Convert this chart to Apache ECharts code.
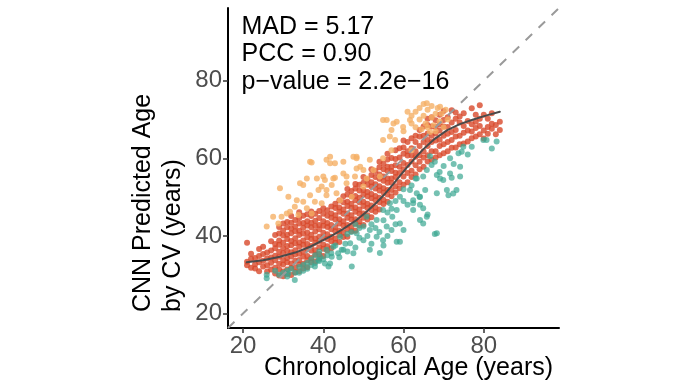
<!DOCTYPE html>
<html>
<head>
<meta charset="utf-8">
<script src="https://cdn.jsdelivr.net/npm/echarts@6/dist/echarts.min.js"></script>
<style>html,body{margin:0;padding:0;background:#fff;}#c{width:689px;height:388px;}</style>
</head>
<body>
<div id="c"></div>
<script>
// ---- data (chronological age, predicted age) ----
const tickValues = [20, 40, 60, 80];
const axisMin = 16.25, axisMax = 98.75;

const redColumns = [
  [21, [32.4, 33.3, 38.2]], [22, [31.8, 34.1, 35.4]], [23, [31.6, 32.7, 34.3]], [24, [30.9, 33.2, 34.8, 36.6]],
  [25, [32.1, 33.6, 35.3, 37.2]], [26, [30.8, 32.4, 34.2, 35.7]], [27, [31.3, 33.1, 34.4, 36.2, 38.6]],
  [28, [30.3, 31.8, 33.7, 34.9, 36.8, 37.9, 40.2]],
  [29, [29.8, 31.4, 32.8, 34.6, 35.9, 37.7, 38.8, 40.6, 42.3]],
  [30, [29.6, 30.8, 32.6, 33.8, 35.6, 36.9, 38.3, 40.1, 41.4, 43.2]],
  [31, [30.2, 31.3, 33.2, 34.3, 36.1, 37.4, 39.2, 40.3, 42.2, 43.6]],
  [32, [29.9, 31.7, 32.9, 34.7, 35.8, 37.6, 38.7, 40.7, 41.9, 43.4, 45.1]],
  [33, [30.6, 31.9, 33.6, 35.2, 36.3, 38.1, 39.4, 41.2, 42.4, 44.1]],
  [34, [30.9, 32.6, 33.8, 35.4, 37.2, 38.3, 40.2, 41.3, 43.2, 44.6, 46.1]],
  [35, [31.6, 32.8, 34.7, 35.9, 37.7, 38.8, 40.6, 42.1, 43.3, 45.2]],
  [36, [31.9, 33.7, 34.8, 36.7, 37.9, 39.6, 40.9, 42.7, 43.8, 45.6]],
  [37, [33.2, 34.3, 36.2, 37.4, 39.2, 40.3, 42.2, 43.4, 45.1, 46.3]],
  [38, [33.4, 35.2, 36.3, 38.2, 39.3, 41.1, 42.6, 43.9, 45.7]],
  [39, [34.2, 35.3, 37.1, 38.7, 39.8, 41.7, 42.8, 44.6, 46.4]],
  [40, [34.8, 36.7, 37.8, 39.6, 40.8, 42.6, 43.8, 45.7, 47.1]],
  [41, [36.2, 37.3, 39.2, 40.4, 42.3, 43.3, 45.2, 46.6]],
  [42, [36.8, 38.6, 39.8, 41.7, 42.8, 44.7, 45.8, 47.6]],
  [43, [38.2, 39.3, 41.2, 42.3, 44.2, 45.3, 47.2, 48.3]],
  [44, [38.4, 40.2, 41.3, 43.2, 44.3, 46.2, 47.3, 49.1]],
  [45, [39.7, 40.8, 42.7, 43.8, 45.7, 46.8, 48.7, 50.2]],
  [46, [39.8, 41.7, 42.8, 44.7, 45.8, 47.7, 48.8, 50.7, 52.1]],
  [47, [41.2, 42.3, 44.2, 45.3, 47.2, 48.3, 50.2, 51.6]],
  [48, [41.3, 43.2, 44.3, 46.2, 47.3, 49.2, 50.3, 52.2, 53.4]],
  [49, [42.7, 43.8, 45.7, 46.8, 48.7, 49.8, 51.7, 53.2]],
  [50, [42.8, 44.7, 45.8, 47.7, 48.8, 50.7, 51.8, 53.7, 55.2]],
  [51, [44.2, 45.3, 47.2, 48.3, 50.2, 51.3, 53.2, 54.6]],
  [52, [44.8, 46.7, 47.8, 49.7, 50.8, 52.7, 53.8, 55.7, 57.2]],
  [53, [46.2, 47.3, 49.2, 50.3, 52.2, 53.3, 55.2, 56.7]],
  [54, [46.8, 48.7, 49.8, 51.7, 52.8, 54.7, 55.8, 57.7, 59.1]],
  [55, [48.2, 49.3, 51.2, 52.3, 54.2, 55.3, 57.2, 58.6]],
  [56, [48.8, 50.7, 51.8, 53.7, 54.8, 56.7, 57.8, 59.7, 61.2]],
  [57, [50.2, 51.8, 53.7, 54.8, 56.7, 57.8, 60.1]],
  [58, [51.2, 52.8, 55.2, 56.3, 58.2, 59.8, 62.1]],
  [59, [52.3, 53.8, 56.2, 57.8, 60.2, 62.6]],
  [60, [53.2, 55.3, 57.2, 58.8, 61.2, 62.8, 64.6]],
  [61, [53.8, 56.2, 58.3, 60.7, 61.8, 64.2]],
  [62, [55.2, 56.8, 59.2, 60.8, 62.6, 65.2]],
  [63, [55.8, 58.2, 60.4, 61.8, 64.2, 65.8]],
  [64, [57.2, 59.1, 60.8, 63.2, 65.6, 67.3]],
  [65, [57.8, 60.2, 61.8, 64.2, 65.8, 68.2]],
  [66, [59.2, 60.8, 63.2, 64.7, 66.4, 68.6, 70.2]],
  [67, [59.6, 61.8, 64.2, 65.8, 68.2, 70.6]],
  [68, [60.2, 61.8, 64.6, 66.4, 68.1, 69.8]],
  [69, [60.8, 63.2, 64.8, 67.2, 68.8, 71.2]],
  [70, [61.3, 63.6, 65.8, 68.2, 69.9, 72.2]],
  [71, [61.8, 64.2, 66.3, 68.1, 70.6]],
  [72, [62.7, 64.7, 66.8, 69.2, 72.4]],
  [73, [62.8, 65.6, 67.3, 70.2, 71.8]],
  [74, [63.6, 65.8, 69.2, 70.8]],
  [75, [63.8, 66.6, 68.3, 71.6]],
  [76, [64.3, 67.2, 69.6]],
  [77, [65.2, 66.9, 68.8, 72.9]],
  [78, [65.6, 67.8, 69.4, 71.2]],
  [79, [66.2, 68.3, 70.2, 73.7]],
  [80, [65.1, 67.2, 71.2]],
  [81, [66.3, 68.1, 70.2]],
  [82, [67.6, 68.9, 71.6]],
  [83, [66.2, 68.6]],
  [84, [67.3, 69.4]]
];

const orangePoints = [
  [25.9,42.4],[27.5,44.9],[28.8,43.2],[29.6,44.9],[30.9,45.8],[31.3,50.1],[31.7,46.2],[32.9,47.5],[33.4,49.2],
  [33.8,45.4],[34.2,53.6],[35,48.8],[35,53.1],[35.9,47.1],[35.9,54.8],[36.7,50.5],[37.1,45.8],[37.1,58.9],
  [37.9,48.8],[38.4,54.8],[38.8,51.8],[39.6,48.4],[39.6,52.7],[40,55.3],[40.4,54.4],[40.8,50.5],[40.8,51.8],
  [40.8,59.6],[41.7,58.7],[42.1,53.1],[42.5,54.8],[42.9,55],[42.9,58.7],[43.3,51],[44.2,49.2],[45,56.1],
  [45,59.1],[45.8,53.6],[47.1,50.1],[47.5,60.4],[47.9,55.3],[48.3,57.4],[48.3,60.4],[49.2,57.8],[50,52.7],
  [50.8,54.8],[51.6,59.6],[52.5,57],[54.9,60],[54.9,64.7],[54.9,69.9],[55.8,69.9],[57,62.1],[57,67.3],
  [57.5,69],[57.9,64.7],[58.3,69.4],[61.6,69.9],[62,69],[62,71],[63,72],[63,68],[64,70],[64,73],[64.5,67.5],
  [65,71],[65,74],[65.5,69],[66,72.5],[66,68],[66.6,66.8],[67,70.5],[67,73.5],[67.5,68.5],[68,71.5],[68,67],
  [68.5,73],[69,69.5],[69.1,73.3],[69.5,71.5],[70,68],[70.5,72.5],[71,70],[60,67],[61,72],
  [29.2,52.3],[36.7,59.1],[41.7,60.4],[48.3,60],[56.6,65.6],[59.9,68.1],[65.8,74.2],[54.1,55.3],[50,57],
  [45.8,55.3],[62,62.1]
];

const tealPoints = [
  [25.9,29.1],[25.9,30],[28,31],[29,30],[30,30.5],[31,29.5],[31,31],[32,31.5],[32.9,28.6],[33,30.5],
  [34,30.5],[34,32],[35,31],[35,32.5],[36,31.5],[36,33],[37,32.5],[37,34],[38,33],[38,35],[39,33.5],
  [39.2,34.6],[39,36],[40,34],[40.8,36.4],[41,35],[41.7,32.9],[42,35.5],[42.5,37.2],
  [37.9,32.1],[40.4,32.9],[42.1,34.6],[43.7,35.5],[44.6,36.4],[38.8,33.8],[31.3,30.3],[41.3,32.1],
  [44.2,39.8],[45,36.4],[46.7,38.1],[47.5,35.5],[47.1,32.1],[48.3,40.7],[50,38.9],[50,42.4],[51.6,41.5],
  [51.6,36.4],[53.3,44.1],[53.3,39.8],[54.1,35.6],[54.9,46.7],[55.8,42.4],[56.6,48.4],[57.2,44.9],[58.3,46.7],
  [59.1,38.5],[59.1,50.1],[61.6,51.8],[63.3,51],[62.4,46.7],[64.9,55.3],[65.8,57],[64.1,44.1],[59.1,43.2],
  [50.8,44.9],[54.9,38.9],[58.3,38.5],[60,41.5],[62.4,48.4],
  [45.5,38],[46,40.5],[47,41],[48,37],[49,39.5],[49,42],[51,40],[52,43],[52,38],[53,42],[54,41],[55,44],
  [56,46],[56,40],[57,47],[58,49],[58,43],[60,49],[60,52],[61,48],[62,53],[63,54.8],[64,50],[43,37.5],
  [44,34.5],[46,36],[48,43],[55,37.5],[57,41.5],
  [65.8,44.9],[68.3,40.7],[67.8,40.5],[68.3,51],[72.4,50.9],[71.6,56.1],[69.9,54.4],[73.7,61.3],[74.9,63],
  [74.5,61.7],[77,63],[79.9,64.7],[83.2,64.3],[80.7,64.7],[71.6,60],[74.1,57.8],[74.1,55.3],[67.8,59.1],
  [67,58.3],[63.3,54.8],[62.4,49.2],[64.1,50.1],[65.4,51.8],[69.1,54.8],[70.8,51.8],[73.2,51.8],[71.2,50.5],
  [64.1,48],[64.9,47.1],[64.9,43.2],[66,45.5],[69,56.5],[70,58],[72,55],[66.6,60.5],[72.5,58.5],[76,61],
  [82,62.5],[68.3,55.7]
];

// smoothed trend
const fitX = [20.9, 25.0, 29.2, 33.0, 36.7, 41.7, 45.0, 48.3, 51.0, 53.3, 55.5, 57.5, 59.2, 60.8, 62.8, 64.9, 67.5, 70.8, 74.0, 77.4, 80.5, 84.0];
const fitY = [33.2, 33.7, 34.6, 35.7, 37.2, 39.8, 41.8, 44.1, 46.4, 48.6, 51.0, 53.4, 55.6, 57.6, 60.0, 62.3, 64.8, 67.2, 68.8, 70.0, 71.0, 72.0];

const identityLine = [[axisMin, axisMin], [axisMax, axisMax]];

const statLines = ['MAD = 5.17', 'PCC = 0.90', 'p\u2212value = 2.2e\u221216'];
const xTitle = 'Chronological Age (years)';
const yTitleLines = ['CNN Predicted Age', 'by CV (years)'];

// ---- build ----
const redPoints = [];
redColumns.forEach(([x, ys]) => ys.forEach(y => redPoints.push([x, y])));
const fitPoints = fitX.map((x, i) => [x, fitY[i]]);

const FONT = '"Liberation Sans", Arial, sans-serif';
const chart = echarts.init(document.getElementById('c'), null, {renderer: 'canvas'});

function axisCommon() {
  return {
    type: 'value', min: axisMin, max: axisMax,
    splitLine: {show: false},
    axisLine: {show: true, onZero: false, lineStyle: {color: '#000', width: 2}},
    axisTick: {show: true, customValues: tickValues, length: 5, lineStyle: {color: '#333', width: 1.5}},
    axisLabel: {show: true, customValues: tickValues, fontSize: 24, color: '#4d4d4d', margin: 6, fontFamily: FONT}
  };
}

const scatter = (data, color, op) => ({
  type: 'scatter', data, symbol: 'circle', symbolSize: 6,
  itemStyle: {color, opacity: op}, silent: true, z: 2
});

chart.setOption({
  animation: false,
  grid: {left: 228, top: 8, right: 130, bottom: 60, containLabel: false},
  xAxis: axisCommon(),
  yAxis: axisCommon(),
  series: [
    scatter(redPoints, '#d8482a', 0.8),
    scatter(orangePoints, '#f5b066', 0.8),
    scatter(tealPoints, '#3aa791', 0.7),
    {type: 'line', data: identityLine, symbol: 'none', silent: true, z: 3,
     lineStyle: {color: '#9a9a9a', width: 2, type: [9, 9]}},
    {type: 'line', data: fitPoints, symbol: 'none', smooth: false, silent: true, z: 4,
     lineStyle: {color: '#4a4a4a', width: 2, join: 'round', cap: 'round'}}
  ],
  graphic: [
    ...statLines.map((t, i) => ({
      type: 'text', x: 241.5, y: [27.3, 54.6, 82][i],
      style: {text: t, font: '25px ' + FONT, fill: '#000', textAlign: 'left', textVerticalAlign: 'middle'}
    })),
    {type: 'text', x: 264, y: 368,
     style: {text: xTitle, font: '25px ' + FONT, fill: '#000', textAlign: 'left', textVerticalAlign: 'middle'}},
    ...yTitleLines.map((t, i) => ({
      type: 'text', x: [143.3, 173.3][i], y: 312, rotation: Math.PI / 2,
      style: {text: t, font: '25px ' + FONT, fill: '#000', textAlign: 'left', textVerticalAlign: 'middle'}
    }))
  ]
});
</script>
</body>
</html>
